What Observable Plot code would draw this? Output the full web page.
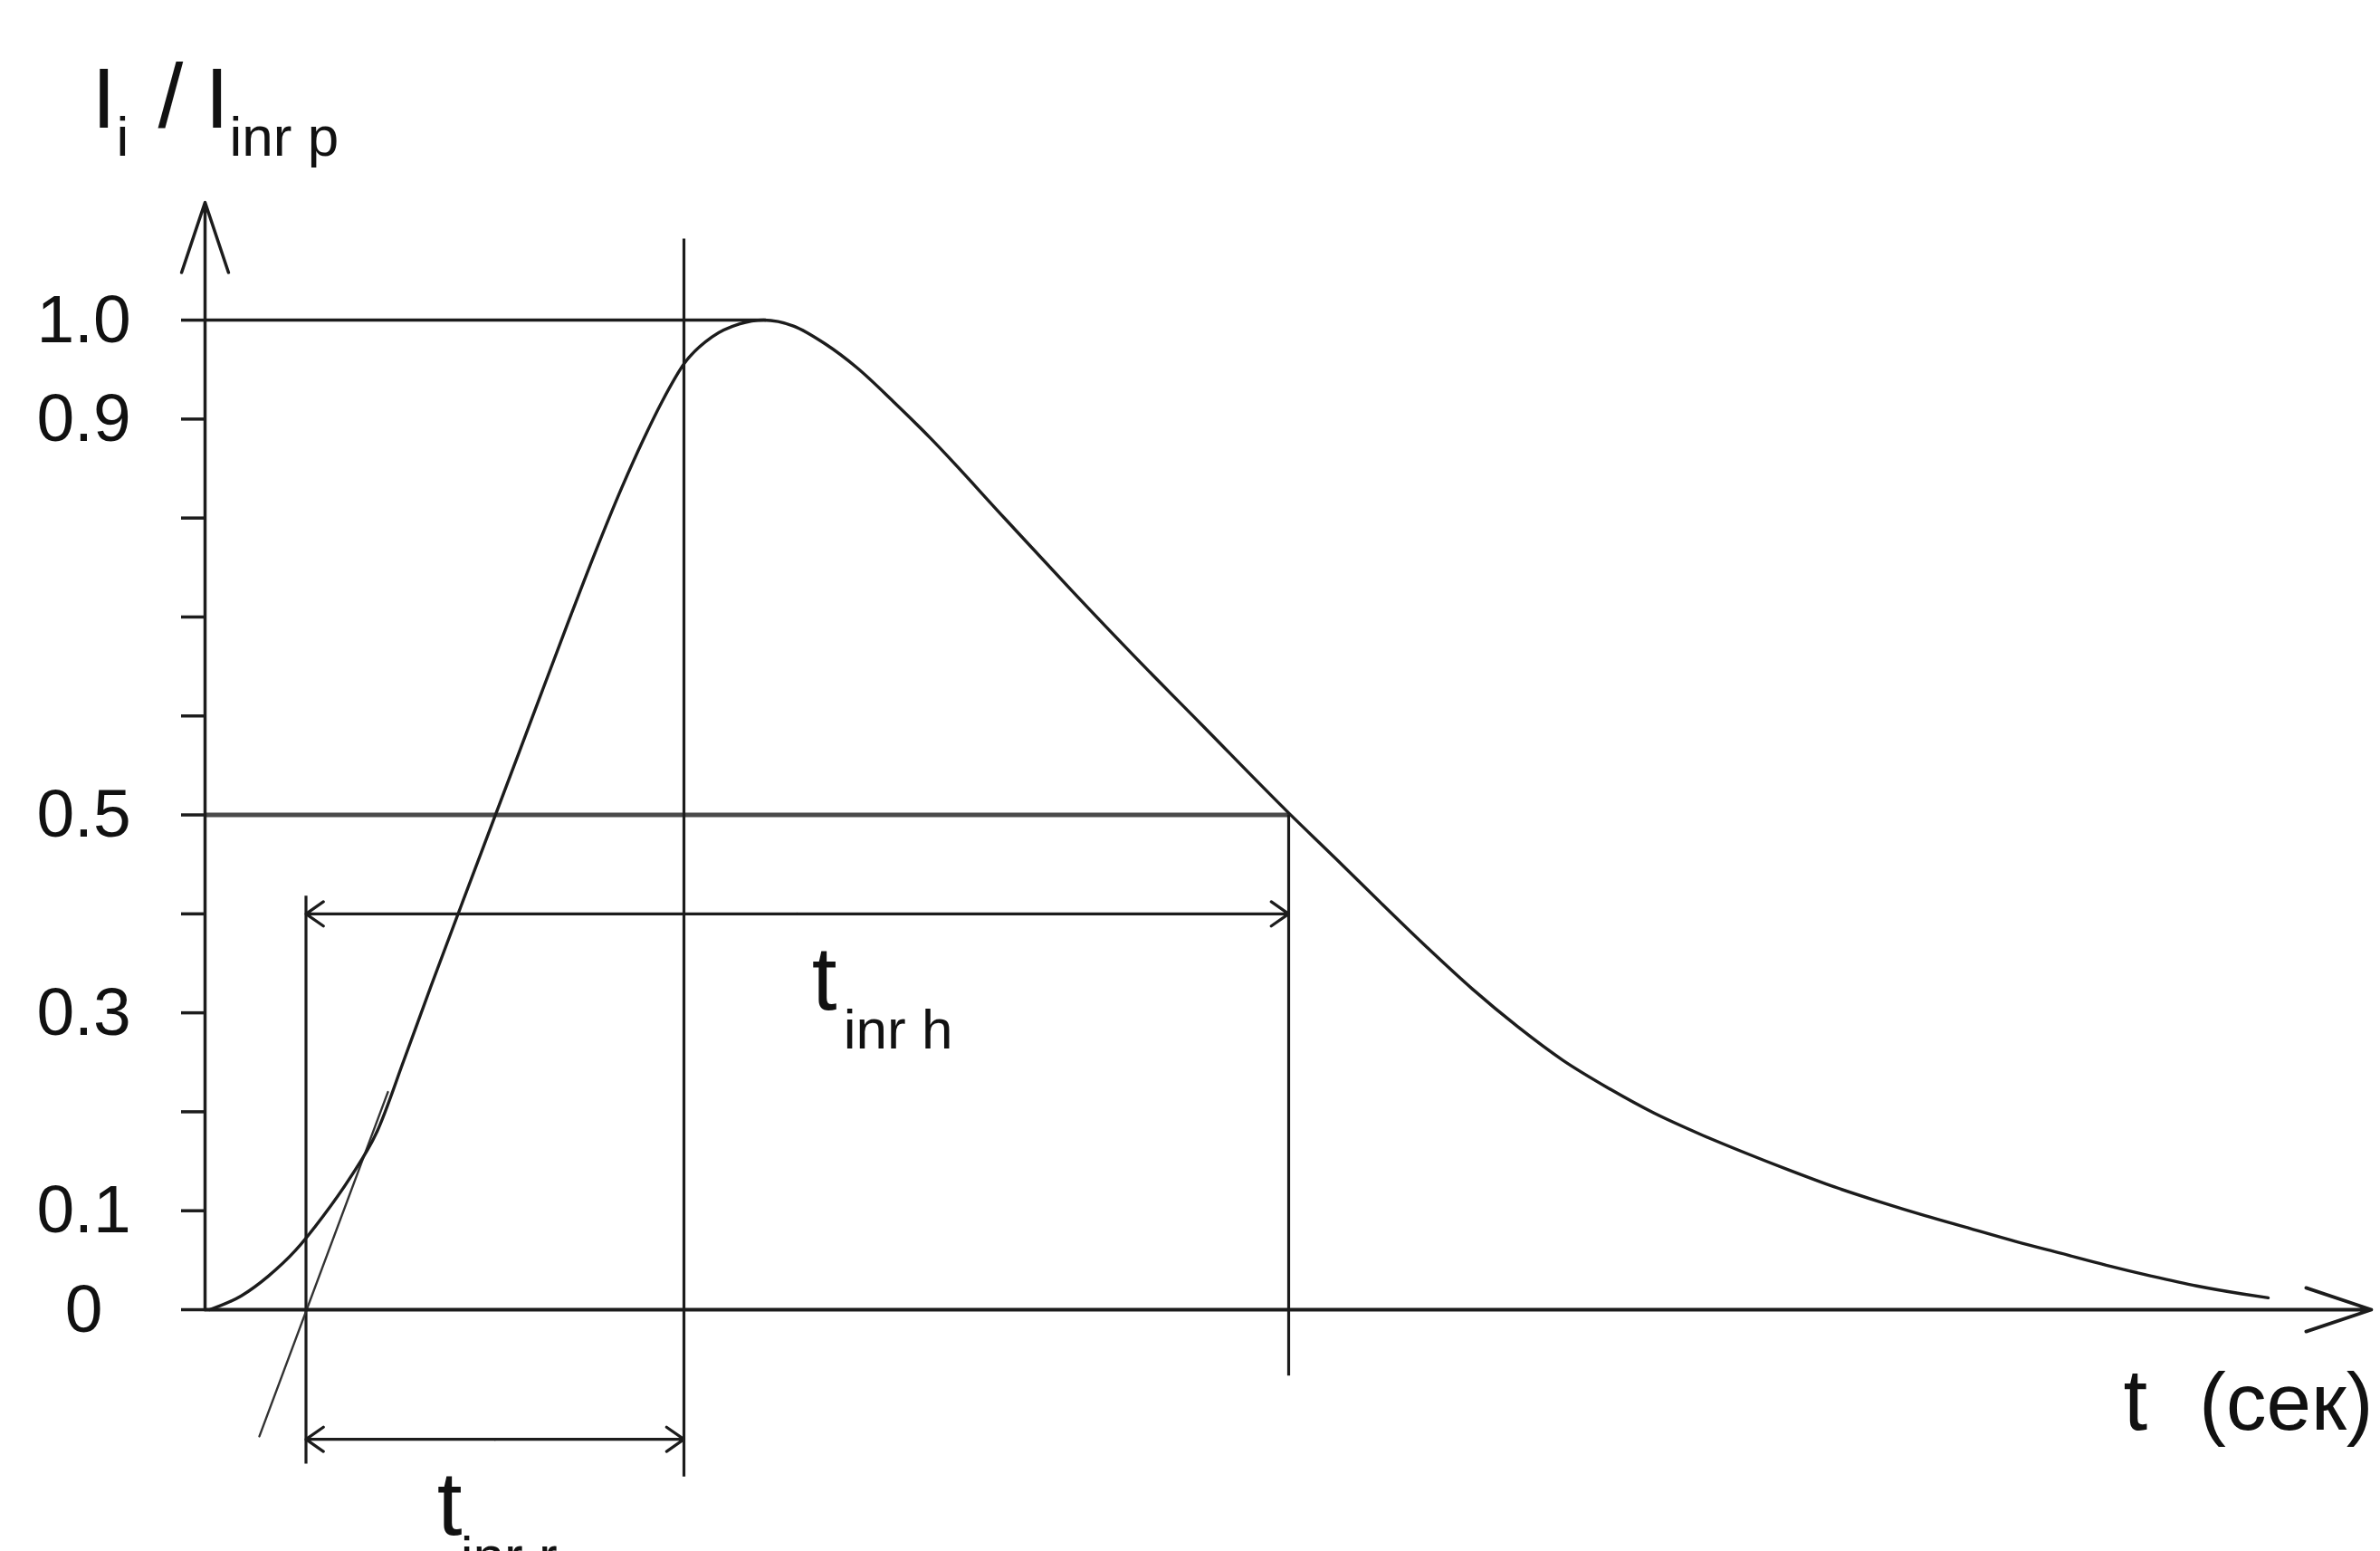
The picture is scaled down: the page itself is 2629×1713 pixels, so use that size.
<!DOCTYPE html>
<html>
<head>
<meta charset="utf-8">
<script src="https://cdn.jsdelivr.net/npm/d3@7"></script>
<script src="https://cdn.jsdelivr.net/npm/@observablehq/plot@0.6"></script>
<style>
  html, body { margin: 0; padding: 0; background: #fff; }
  #chart svg { display: block; }
</style>
</head>
<body>
<div id="chart"></div>
<script>
// ---- Data (t in relative time units, value = Ii / Iinr p) ----
const curveT = [0.05, 0.4, 0.7, 1.0, 1.3, 1.6, 1.9, 2.2, 2.5, 2.82, 3.2, 3.6, 4.0, 4.3, 4.6, 4.83, 5.05, 5.3, 5.6, 5.9, 6.17, 6.5, 6.85, 7.2, 7.6, 8.01, 8.84, 9.57, 10.3, 11.0, 11.97, 12.5, 13.0, 13.5, 14.0, 14.5, 15.0, 15.5, 16.0, 16.5, 17.0, 17.5, 18.0, 18.5, 19.0, 19.5, 20.0, 20.5, 21.0, 21.5, 22.0, 22.5, 22.79];
const curveI = [0, 0.014, 0.034, 0.060, 0.094, 0.133, 0.180, 0.253, 0.328, 0.406, 0.498, 0.595, 0.692, 0.763, 0.830, 0.877, 0.918, 0.957, 0.983, 0.996, 1.0, 0.994, 0.976, 0.952, 0.918, 0.881, 0.799, 0.727, 0.657, 0.592, 0.502, 0.455, 0.410, 0.366, 0.324, 0.286, 0.252, 0.224, 0.199, 0.178, 0.159, 0.141, 0.124, 0.109, 0.095, 0.082, 0.069, 0.057, 0.045, 0.034, 0.024, 0.016, 0.012];

const tickValues = [0, 0.1, 0.2, 0.3, 0.4, 0.5, 0.6, 0.7, 0.8, 0.9, 1.0];
const labeledValues = [0, 0.1, 0.3, 0.5, 0.9, 1.0];
const labeledText = ["0", "0.1", "0.3", "0.5", "0.9", "1.0"];

// Tangent to the rising edge
const tangentT = [0.60, 2.02];
const tangentI = [-0.128, 0.22];

// Key instants and levels
const tRiseStart = 1.115;  // tangent meets the time axis
const tRiseEnd = 5.29;
const tPeak = 6.2;
const tHalf = 11.97;       // decay back to 0.5
const levelPeak = 1.0;
const levelHalf = 0.5;
const levelDimHalf = 0.4;
const levelDimRise = -0.131;
const riseLineTop = 0.418, riseLineBottom = -0.156;
const endLineTop = 1.082, endLineBottom = -0.169;
const halfLineBottom = -0.067;
const tAxisEnd = 23.93;
const iAxisEnd = 1.119;

// ---- Build tables ----
const curve = curveT.map((t, i) => ({t, v: curveI[i]}));
const tangent = tangentT.map((t, i) => ({t, v: tangentI[i]}));
const dims = [
  {a: tRiseStart, b: tHalf, v: levelDimHalf},
  {a: tRiseStart, b: tRiseEnd, v: levelDimRise}
];
const verticals = [
  {t: tRiseStart, y1: riseLineTop, y2: riseLineBottom},
  {t: tRiseEnd, y1: endLineTop, y2: endLineBottom},
  {t: tHalf, y1: levelHalf, y2: halfLineBottom}
];

const INK = "#1c1c1c";
const FONT = "'Liberation Sans', Arial, Helvetica, sans-serif";

function label(str, x, y, opts) {
  return Plot.text([str], Object.assign({x: () => x, y: () => y, text: d => d, fill: "#111",
    textAnchor: "start", lineAnchor: "bottom", fontFamily: FONT}, opts));
}

const mid = (dims[0].a + dims[0].b) / 2;
const midLow = (dims[1].a + dims[1].b) / 2;

const chart = Plot.plot({
  width: 2629,
  height: 1713,
  marginLeft: 226,
  marginRight: 10,
  marginTop: 223,
  marginBottom: 267,
  x: {domain: [0, tAxisEnd], axis: null},
  y: {domain: [0, iAxisEnd]},
  style: {fontFamily: FONT, background: "#fff", color: INK, overflow: "visible"},
  marks: [
    // y ticks (marks only)
    Plot.axisY({
      ticks: tickValues,
      tickSize: 26,
      tickFormat: () => "",
      label: null,
      stroke: INK,
      strokeWidth: 3.5
    }),
    // y tick labels
    Plot.text(labeledValues, {
      y: d => d,
      text: (d, i) => labeledText[i],
      frameAnchor: "left",
      dx: -134,
      textAnchor: "middle",
      lineAnchor: "middle",
      fontSize: 75,
      fill: "#111",
      fontFamily: FONT
    }),
    // reference levels
    Plot.ruleY([levelPeak], {x1: 0, x2: tPeak, stroke: INK, strokeWidth: 3.5}),
    Plot.ruleY([levelHalf], {x1: 0, x2: tHalf, stroke: "#4a4a4a", strokeWidth: 5}),
    // vertical markers
    Plot.ruleX(verticals, {x: "t", y1: "y1", y2: "y2", stroke: INK, strokeWidth: 3.2}),
    // tangent
    Plot.line(tangent, {x: "t", y: "v", stroke: "#333", strokeWidth: 2.4}),
    // inrush curve
    Plot.line(curve, {x: "t", y: "v", curve: "monotone-x", stroke: INK, strokeWidth: 3.4}),
    // dimension arrows (double headed)
    Plot.arrow(dims, {x1: d => (d.a + d.b) / 2, x2: "b", y1: "v", y2: "v", stroke: INK, strokeWidth: 3.2, headAngle: 70, headLength: 11}),
    Plot.arrow(dims, {x1: d => (d.a + d.b) / 2, x2: "a", y1: "v", y2: "v", stroke: INK, strokeWidth: 3.2, headAngle: 70, headLength: 11}),
    // axes with arrowheads
    Plot.arrow([0], {x1: 0, y1: 0, x2: 0, y2: iAxisEnd, stroke: INK, strokeWidth: 3.5, headAngle: 37, headLength: 35}),
    Plot.arrow([0], {x1: 0, y1: 0, x2: tAxisEnd, y2: 0, stroke: INK, strokeWidth: 3.8, headAngle: 37, headLength: 30}),
    // axis titles
    label("I", 0, iAxisEnd, {dx: -125, dy: -83, fontSize: 95}),
    label("i", 0, iAxisEnd, {dx: -98, dy: -52, fontSize: 62}),
    label("/", 0, iAxisEnd, {dx: -38, dy: -83, fontSize: 100, textAnchor: "middle"}),
    label("I", 0, iAxisEnd, {dx: 0, dy: -83, fontSize: 95}),
    label("inr p", 0, iAxisEnd, {dx: 27, dy: -52, fontSize: 62}),
    label("t", tAxisEnd, 0, {dx: -274, dy: 132, fontSize: 96}),
    label("(сек)", tAxisEnd, 0, {dx: 2, dy: 132, fontSize: 89, textAnchor: "end"}),
    // dimension labels
    label("t", mid, levelDimHalf, {dx: 16, dy: 106, fontSize: 100}),
    label("inr h", mid, levelDimHalf, {dx: 51, dy: 149, fontSize: 62}),
    label("t", midLow, levelDimRise, {dx: -64, dy: 105, fontSize: 100}),
    label("inr r", midLow, levelDimRise, {dx: -38, dy: 150, fontSize: 62})
  ]
});

document.getElementById("chart").append(chart);
</script>
</body>
</html>
